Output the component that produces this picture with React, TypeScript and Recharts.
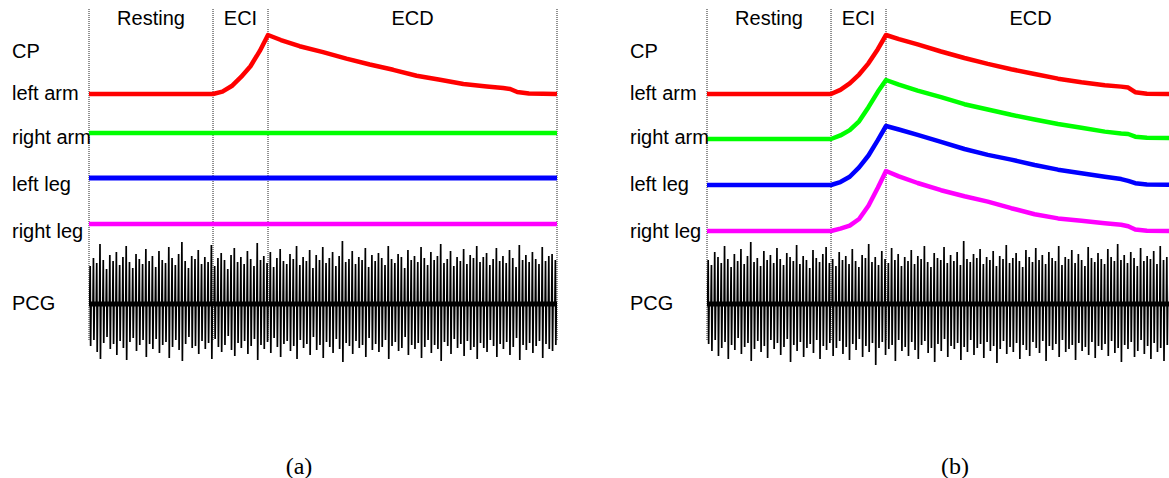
import React from 'react'
import { LineChart, Line, XAxis, YAxis, ReferenceLine, ReferenceArea } from 'recharts'

// channel names shown on the left of each panel
const CHANNELS = ['CP', 'left arm', 'right arm', 'left leg', 'right leg', 'PCG']
const PHASES = ['Resting', 'ECI', 'ECD']
const PHASE_EDGES = [0, 26.5, 38.25, 100]
const CAPTIONS = ['(a)', '(b)']

// cuff pressure traces, normalised to the peak (1 = end of inflation)
const CP_TIME = [0, 26.5, 28.5, 30.5, 32.5, 34.5, 36.5, 38.25, 41, 45, 50, 55, 60, 65, 70, 75, 80, 85, 88.5, 90, 91.5, 94, 100]
const A_LEFT_ARM = [0, 0, 0.04, 0.135, 0.29, 0.47, 0.73, 1, 0.915, 0.81, 0.71, 0.6, 0.5, 0.41, 0.31, 0.24, 0.17, 0.127, 0.1, 0.085, 0.034, 0.01, 0]
const A_FLAT = [0, 0, 0, 0, 0, 0, 0, 0, 0, 0, 0, 0, 0, 0, 0, 0, 0, 0, 0, 0, 0, 0, 0]
const B_LEFT_ARM = [0, 0, 0.07, 0.18, 0.33, 0.52, 0.76, 1, 0.93, 0.84, 0.72, 0.61, 0.51, 0.42, 0.34, 0.26, 0.2, 0.15, 0.125, 0.11, 0.03, 0.005, 0]
const B_RIGHT_ARM = [0, 0, 0.06, 0.15, 0.3, 0.54, 0.8, 1, 0.92, 0.82, 0.71, 0.59, 0.5, 0.41, 0.33, 0.255, 0.19, 0.125, 0.095, 0.085, 0.04, 0.02, 0.017]
const B_LEFT_LEG = [0, 0, 0.05, 0.14, 0.3, 0.5, 0.76, 1, 0.94, 0.85, 0.73, 0.61, 0.51, 0.43, 0.34, 0.26, 0.2, 0.14, 0.1, 0.07, 0.03, 0.01, 0]
const B_RIGHT_LEG = [0, 0, 0.04, 0.09, 0.2, 0.42, 0.72, 1, 0.91, 0.8, 0.68, 0.58, 0.49, 0.38, 0.28, 0.21, 0.17, 0.13, 0.105, 0.08, 0.025, 0.005, 0]

// PCG spike peaks (a.u.), upward and downward excursion of each beat sound
const A_PCG_UP = [
  38, 46, 41, 60, 44, 35, 49, 43, 52, 39, 47, 58, 42, 36, 50, 45, 40, 55, 43, 48,
  37, 53, 44, 41, 57, 46, 39, 50, 62, 43, 36, 48, 45, 54, 40, 47, 42, 59, 38, 46,
  51, 44, 35, 49, 56, 42, 47, 40, 53, 45, 38, 61, 44, 48, 41, 52, 37, 46, 55, 43,
  40, 50, 45, 58, 39, 47, 43, 54, 36, 49, 44, 57, 41, 46, 52, 38, 48, 63, 42, 45,
  53, 40, 47, 44, 56, 37, 49, 43, 51, 46, 39, 58, 45, 41, 50, 47, 36, 54, 44, 48,
  42, 57, 46, 39, 52, 44, 48, 60, 41, 45, 53, 38, 47, 43, 55, 40, 49, 46, 58, 42,
  47, 51, 39, 45, 56, 43, 48, 41, 54, 46, 37, 59, 44, 49, 42, 52, 45, 40, 57, 43, 48, 50, 44,
]
const A_PCG_DOWN = [
  42, 36, 48, 55, 39, 33, 45, 40, 51, 37, 44, 56, 38, 34, 47, 41, 36, 53, 40, 45,
  35, 49, 41, 38, 54, 43, 36, 46, 57, 40, 33, 44, 42, 50, 37, 45, 39, 55, 35, 43,
  48, 41, 32, 46, 52, 39, 44, 37, 50, 42, 35, 56, 41, 45, 38, 49, 34, 43, 53, 40,
  37, 47, 42, 55, 36, 44, 40, 51, 33, 46, 41, 54, 38, 43, 49, 35, 45, 58, 39, 42,
  50, 37, 44, 41, 53, 34, 46, 40, 48, 43, 36, 55, 42, 38, 47, 44, 33, 51, 41, 45,
  39, 54, 43, 36, 49, 41, 45, 57, 38, 42, 50, 35, 44, 40, 52, 37, 46, 43, 55, 39,
  44, 48, 36, 42, 53, 40, 45, 38, 51, 43, 34, 56, 41, 46, 39, 49, 42, 37, 54, 40, 45, 47, 41,
]
const B_PCG_UP = [
  44, 39, 52, 47, 41, 58, 45, 37, 50, 43, 55, 40, 48, 62, 42, 46, 38, 53, 44, 49,
  41, 56, 45, 39, 51, 47, 43, 59, 40, 48, 44, 36, 54, 46, 42, 50, 57, 41, 45, 38,
  52, 44, 48, 40, 55, 43, 37, 49, 46, 60, 42, 47, 39, 53, 45, 41, 56, 44, 50, 38,
  47, 43, 54, 40, 48, 45, 58, 42, 37, 51, 46, 44, 57, 41, 49, 43, 52, 39, 63, 45,
  42, 50, 46, 55, 40, 47, 44, 53, 38, 48, 45, 59, 41, 46, 51, 43, 37, 54, 47, 42,
  56, 44, 49, 40, 52, 46, 43, 58, 39, 47, 45, 54, 41, 50, 44, 38, 57, 46, 42, 51,
  45, 40, 55, 47, 43, 60, 44, 49, 41, 52, 46, 38, 56, 43, 48, 45, 53, 40, 58, 44, 47, 42, 50,
]
const B_PCG_DOWN = [
  40, 47, 36, 52, 44, 38, 55, 41, 46, 34, 50, 43, 39, 57, 45, 37, 48, 42, 54, 36,
  45, 39, 51, 43, 35, 58, 41, 47, 38, 53, 44, 40, 49, 36, 55, 42, 46, 39, 52, 44,
  37, 50, 43, 56, 40, 46, 35, 53, 42, 48, 39, 61, 44, 38, 51, 45, 41, 57, 36, 47,
  43, 52, 38, 46, 55, 41, 37, 49, 44, 58, 40, 47, 35, 53, 42, 45, 39, 56, 43, 48,
  36, 51, 44, 40, 54, 38, 47, 42, 59, 45, 37, 50, 43, 48, 39, 55, 41, 46, 52, 38,
  44, 49, 37, 57, 42, 46, 40, 53, 36, 48, 45, 41, 56, 39, 47, 43, 51, 38, 54, 42,
  46, 40, 52, 37, 49, 44, 58, 41, 45, 38, 53, 47, 36, 50, 42, 55, 39, 48, 44, 57, 41, 46, 43,
]

// layout
const W = 560
const H = 380
const PLOT_TOP = 9
const PLOT_H = 366
const AXIS_W = 89
const LABEL_X = 12
const LABEL_ROWS = [58, 100, 144, 191, 238, 310]
const FRAME_BOTTOM = 340
const PCG_BASE = 304
const PCG_STEP = 0.7
const FONT = '"Liberation Sans", Arial, sans-serif'

type Trace = { id: string; color: string; values: number[]; base: number; unit: number; width: number }

// domain that puts value 0 at basePx and value 1 unitPx higher
function traceDomain(basePx: number, unitPx: number): [number, number] {
  const hi = (basePx - PLOT_TOP) / unitPx
  return [hi - PLOT_H / unitPx, hi]
}

function pcgPoints(up: number[], down: number[]) {
  const pts: { t: number; v: number }[] = []
  up.forEach((u, i) => {
    const t = i * PCG_STEP + 0.15
    pts.push({ t, v: 0 }, { t: t + 0.1, v: u }, { t: t + 0.2, v: -(down[i] ?? u) }, { t: t + 0.3, v: 0 })
  })
  return pts
}

function ChannelTick(props: any) {
  const { y, payload } = props
  const k = LABEL_ROWS.indexOf(payload.value)
  return (
    <text x={LABEL_X} y={y} fontSize={20} fontFamily={FONT} fill="#000">
      {CHANNELS[k]}
    </text>
  )
}

function Panel({ traces, up, down }: { traces: Trace[]; up: number[]; down: number[] }) {
  const pcg = pcgPoints(up, down)
  const band = [{ t: 0, v: 0 }, { t: 100, v: 0 }]
  return (
    <LineChart width={W} height={H} margin={{ top: PLOT_TOP, right: 3, bottom: H - PLOT_TOP - PLOT_H, left: 0 }}>
      <XAxis type="number" dataKey="t" domain={[0, 100]} allowDataOverflow hide />
      <YAxis
        yAxisId="frame"
        type="number"
        domain={[PLOT_TOP, PLOT_TOP + PLOT_H]}
        reversed
        allowDataOverflow
        width={AXIS_W}
        ticks={LABEL_ROWS}
        interval={0}
        tick={<ChannelTick />}
        axisLine={false}
        tickLine={false}
      />
      {traces.map((tr) => (
        <YAxis key={tr.id} yAxisId={tr.id} type="number" domain={traceDomain(tr.base, tr.unit)} allowDataOverflow hide />
      ))}
      <YAxis yAxisId="pcg" type="number" domain={traceDomain(PCG_BASE, 1)} allowDataOverflow hide />

      {PHASES.map((p, i) => (
        <ReferenceArea
          key={p}
          yAxisId="frame"
          x1={PHASE_EDGES[i]}
          x2={PHASE_EDGES[i + 1]}
          fillOpacity={0}
          strokeOpacity={0}
          label={{ value: p, position: 'insideTop', offset: 2, fontSize: 20, fontFamily: FONT, fill: '#000' }}
        />
      ))}
      {PHASE_EDGES.map((x) => (
        <ReferenceLine
          key={x}
          yAxisId="frame"
          segment={[{ x, y: PLOT_TOP }, { x, y: FRAME_BOTTOM }]}
          stroke="#222"
          strokeWidth={1}
          strokeDasharray="1 1"
        />
      ))}

      <Line yAxisId="pcg" data={band} dataKey="v" stroke="#000" strokeWidth={5} dot={false} isAnimationActive={false} />
      <Line
        yAxisId="pcg"
        data={pcg}
        dataKey="v"
        stroke="#000"
        strokeWidth={1.7}
        strokeLinejoin="bevel"
        dot={false}
        isAnimationActive={false}
      />
      {traces.map((tr) => (
        <Line
          key={tr.id}
          yAxisId={tr.id}
          type="linear"
          data={CP_TIME.map((t, i) => ({ t, v: tr.values[i] }))}
          dataKey="v"
          stroke={tr.color}
          strokeWidth={tr.width}
          strokeLinejoin="round"
          dot={false}
          isAnimationActive={false}
        />
      ))}
    </LineChart>
  )
}

const TRACES_A: Trace[] = [
  { id: 'la', color: '#ff0000', values: A_LEFT_ARM, base: 94, unit: 59, width: 4.5 },
  { id: 'ra', color: '#00ff00', values: A_FLAT, base: 133, unit: 59, width: 4.5 },
  { id: 'll', color: '#0000ff', values: A_FLAT, base: 178, unit: 59, width: 5 },
  { id: 'rl', color: '#ff00ff', values: A_FLAT, base: 224, unit: 59, width: 4.5 },
]
const TRACES_B: Trace[] = [
  { id: 'la', color: '#ff0000', values: B_LEFT_ARM, base: 94, unit: 59, width: 4.5 },
  { id: 'ra', color: '#00ff00', values: B_RIGHT_ARM, base: 139, unit: 59, width: 4.5 },
  { id: 'll', color: '#0000ff', values: B_LEFT_LEG, base: 185, unit: 59, width: 4.5 },
  { id: 'rl', color: '#ff00ff', values: B_RIGHT_LEG, base: 231, unit: 60, width: 4.5 },
]

const captionStyle = (center: number): React.CSSProperties => ({
  position: 'absolute',
  left: center - 50,
  width: 100,
  top: 454,
  textAlign: 'center',
  fontFamily: '"Liberation Serif", "Times New Roman", serif',
  fontSize: 24,
  lineHeight: '24px',
  color: '#000',
})

export default function App() {
  return (
    <div style={{ position: 'fixed', left: 0, top: 0, width: 1169, height: 478, overflow: 'hidden', background: '#fff' }}>
      <div style={{ position: 'absolute', left: 0, top: 0 }}>
        <Panel traces={TRACES_A} up={A_PCG_UP} down={A_PCG_DOWN} />
      </div>
      <div style={{ position: 'absolute', left: 618, top: 0 }}>
        <Panel traces={TRACES_B} up={B_PCG_UP} down={B_PCG_DOWN} />
      </div>
      <div style={captionStyle(299)}>{CAPTIONS[0]}</div>
      <div style={captionStyle(955)}>{CAPTIONS[1]}</div>
    </div>
  )
}
